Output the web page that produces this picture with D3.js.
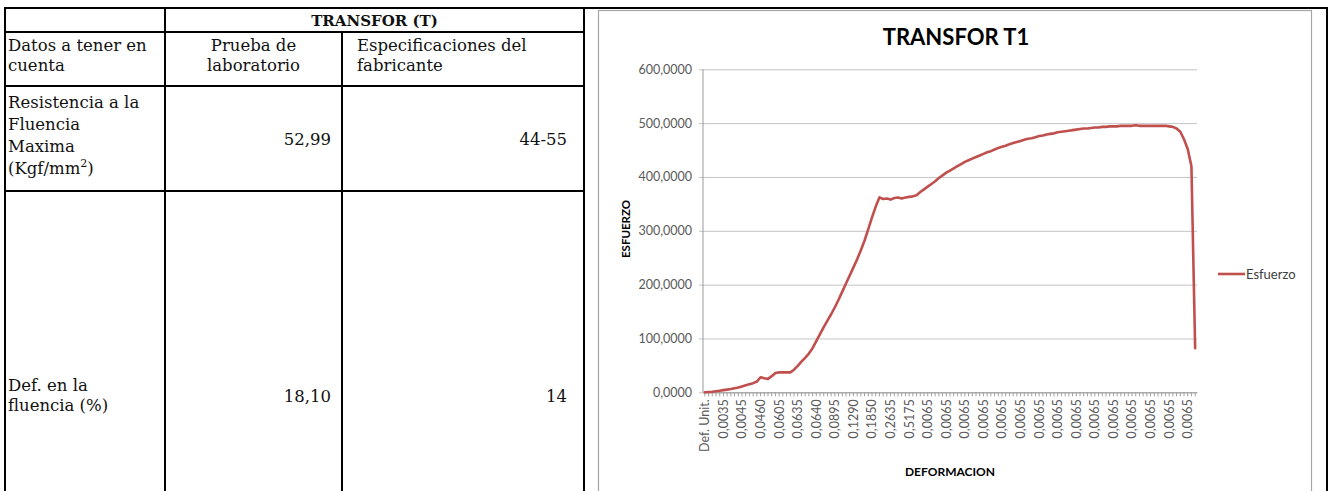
<!DOCTYPE html>
<html><head><meta charset="utf-8">
<script src="https://cdn.jsdelivr.net/npm/d3@7"></script>
<style>body{margin:0;background:#fff}svg{display:block}</style>
</head><body><svg id="c" width="1337" height="491"></svg>
<script>
// ---------- table data ----------
const tableTitle = "TRANSFOR (T)";
const columnHeaders = [["Datos a tener en","cuenta"],["Prueba de","laboratorio"],["Especificaciones del","fabricante"]];
const rowLabels = [["Resistencia a la","Fluencia","Maxima","(Kgf/mm|2|)"],["Def. en la","fluencia (%)"]];
const labValues = ["52,99","18,10"];
const specValues = ["44-55","14"];

// ---------- chart data ----------
const chartTitle = "TRANSFOR T1";
const seriesName = "Esfuerzo";
const yTitle = "ESFUERZO";
const xTitle = "DEFORMACION";
const yTicks = [0,100,200,300,400,500,600];
const labelStep = 5;
const xTickLabels = ["Def. Unit.","0,0035","0,0045","0,0460","0,0605","0,0635","0,0640","0,0895","0,1290","0,1850","0,2635","0,5175",
  "0,0065","0,0065","0,0065","0,0065","0,0065","0,0065","0,0065","0,0065","0,0065","0,0065","0,0065","0,0065","0,0065","0,0065","0,0065"];
const stress = [
  0,0.5,1,2,3,4,5,6,7.5,9,
  11,13,15,17,20,28,26,25,30,36,
  37,37,37,37,42,49,57,64,72,82,
  95,108,121,133,145,158,172,187,202,217,
  232,247,264,282,303,325,345,362,359,360,
  358,361,362,360,362,363,364,366,372,377,
  382,387,392,398,403,408,412,416,420,424,
  428,431,434,437,440,443,446,448,451,454,
  456,458,461,463,465,467,469,471,472,474,
  476,477,479,480,481,483,484,485,486,487,
  488,489,490,490,491,492,492,493,493,494,
  494,494,495,495,495,495,496,495,495,495,
  495,495,495,495,495,494,493,490,484,470,
  452,420,82
];

const svg = d3.select("#c");

// ---------- table ----------
const serif = "'DejaVu Serif', 'Liberation Serif', serif";
const tfs = 16.5;
const colX = [5,165,342,584];
const T = svg.append("g");
function hline(y,x1,x2){T.append("line").attr("x1",x1).attr("x2",x2).attr("y1",y).attr("y2",y).attr("stroke","#000").attr("stroke-width",2);}
function vline(x,y1,y2){T.append("line").attr("x1",x).attr("x2",x).attr("y1",y1).attr("y2",y2).attr("stroke","#000").attr("stroke-width",2);}
hline(8,4,1328);
hline(32,5,584); hline(86,5,584); hline(191,5,584);
vline(5,7,491); vline(165,7,491); vline(342,32,491); vline(584,7,491); vline(1327,7,491);

function txt(x,y,s,anchor,weight,size){
  const t = T.append("text").attr("x",x).attr("y",y).attr("font-family",serif).attr("font-size",size||tfs)
    .attr("text-anchor",anchor||"start").attr("font-weight",weight||"normal").attr("fill","#111");
  const parts = s.split("|");
  if(parts.length===3){
    t.append("tspan").text(parts[0]);
    t.append("tspan").attr("dy",-7).attr("font-size",11).text(parts[1]);
    t.append("tspan").attr("dy",7).text(parts[2]);
  } else t.text(s);
  return t;
}
txt((colX[1]+colX[3])/2, 26, tableTitle, "middle", "bold", 15);
columnHeaders[0].forEach((s,i)=>txt(8, 51, s).attr("y",51+i*20));
columnHeaders[1].forEach((s,i)=>txt((colX[1]+colX[2])/2, 51+i*20, s, "middle"));
columnHeaders[2].forEach((s,i)=>txt(357, 51+i*20, s));
rowLabels[0].forEach((s,i)=>txt(8, 108+i*22, s));
rowLabels[1].forEach((s,i)=>txt(8, 391+i*20, s));
txt(331, 145, labValues[0], "end");
txt(331, 402, labValues[1], "end");
txt(567, 145, specValues[0], "end");
txt(567, 402, specValues[1], "end");

// ---------- chart ----------
const sans = "Lato, 'Open Sans', sans-serif";
svg.append("rect").attr("x",598.5).attr("y",10.5).attr("width",713).attr("height",520)
  .attr("fill","#fff").attr("stroke","#a6a6a6").attr("stroke-width",1.2);

const plotL = 703, plotR = 1197, plotT = 69.3, plotB = 392.3;
const x = d3.scaleBand().domain(d3.range(stress.length)).range([plotL, plotR]);
const y = d3.scaleLinear().domain([0,600]).range([plotB, plotT]);
const loc = d3.formatLocale({decimal:",", thousands:".", grouping:[3], currency:["",""]});
const fmt = loc.format(".4f");

const gy = svg.append("g").attr("transform",`translate(${plotL},0)`)
  .call(d3.axisLeft(y).tickValues(yTicks).tickFormat(fmt).tickSizeInner(-(plotR-plotL)).tickSizeOuter(0).tickPadding(11));
gy.select(".domain").remove();
gy.selectAll(".tick line").attr("x1",-4).attr("stroke","#c4c4c4");
gy.selectAll(".tick text").attr("font-family",sans).attr("font-size",12.5).attr("fill","#595959");

svg.append("line").attr("x1",plotL).attr("x2",plotL).attr("y1",plotT).attr("y2",plotB).attr("stroke","#9a9a9a");

const gx = svg.append("g").attr("transform",`translate(0,${plotB})`)
  .call(d3.axisBottom(x).tickValues(d3.range(stress.length)).tickSizeInner(4).tickSizeOuter(0)
    .tickFormat(i => i % labelStep === 0 ? xTickLabels[i/labelStep] : ""));
gx.select(".domain").attr("stroke","#9a9a9a");
gx.selectAll(".tick line").attr("stroke","#a0a0a0");
gx.selectAll(".tick text").attr("font-family",sans).attr("font-size",12.5).attr("fill","#595959")
  .attr("transform","rotate(-90)").attr("text-anchor","end").attr("x",-7).attr("y",0).attr("dy","0.35em");

const line = d3.line().x((d,i)=>x(i)+x.bandwidth()/2).y(d=>y(d)).curve(d3.curveLinear);
svg.append("path").datum(stress).attr("d",line).attr("fill","none").attr("stroke","#C0504D")
  .attr("stroke-width",2.6).attr("stroke-linejoin","round").attr("stroke-linecap","round");

svg.append("text").attr("x",956).attr("y",45).attr("text-anchor","middle").attr("font-family",sans)
  .attr("font-weight","bold").attr("font-size",22).attr("fill","#000").text(chartTitle);
svg.append("text").attr("transform","translate(630,229) rotate(-90)").attr("text-anchor","middle")
  .attr("font-family",sans).attr("font-weight","bold").attr("font-size",11.5).attr("fill","#000").text(yTitle);
svg.append("text").attr("x",(plotL+plotR)/2).attr("y",476).attr("text-anchor","middle")
  .attr("font-family",sans).attr("font-weight","bold").attr("font-size",12).attr("fill","#000").text(xTitle);

const lg = svg.append("g").attr("transform","translate(1218,274)");
lg.append("line").attr("x1",0).attr("x2",27).attr("y1",0).attr("y2",0).attr("stroke","#C0504D").attr("stroke-width",2.6);
lg.append("text").attr("x",28).attr("y",0).attr("dy","0.35em").attr("font-family",sans).attr("font-size",13)
  .attr("fill","#404040").text(seriesName);
</script></body></html>
